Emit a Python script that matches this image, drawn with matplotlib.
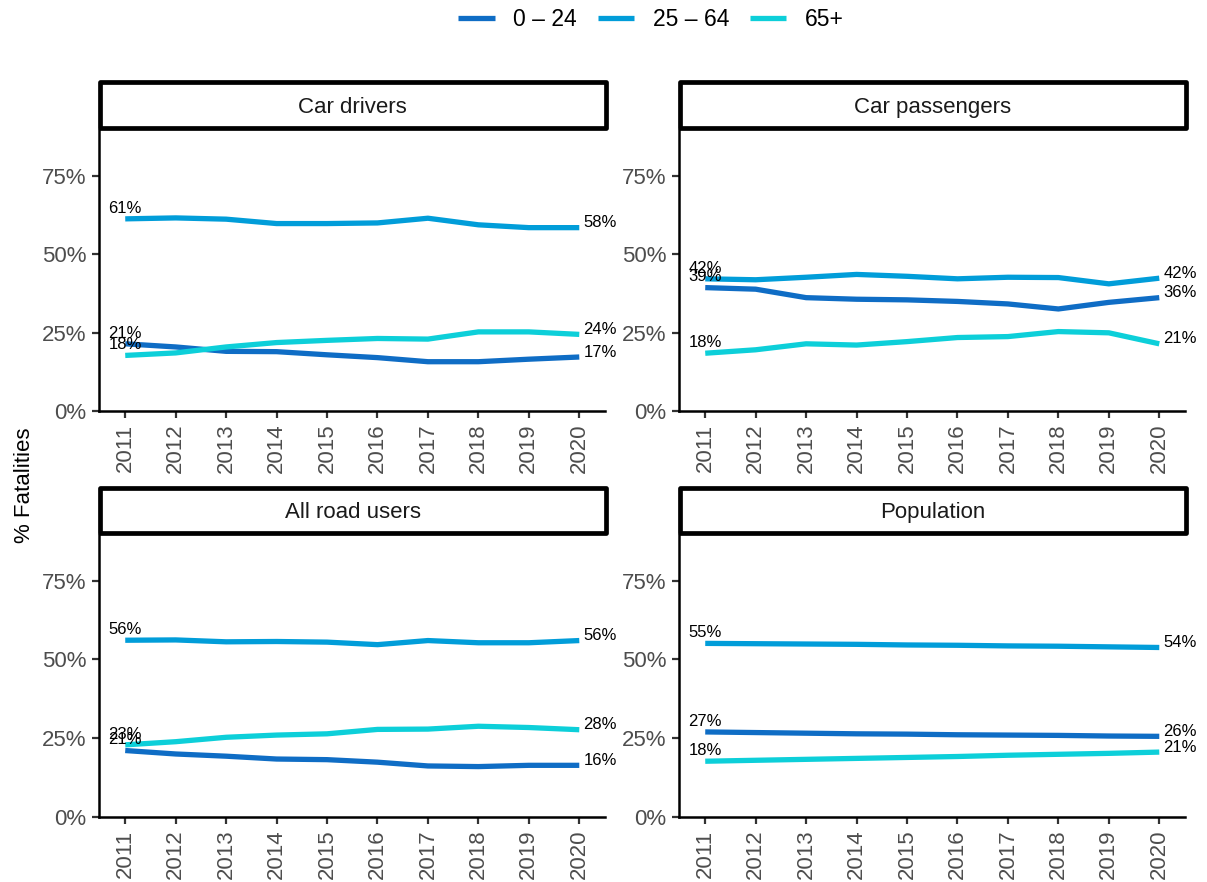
import numpy as np
import matplotlib.pyplot as plt
from matplotlib.patches import Rectangle
from matplotlib.lines import Line2D

plt.rcParams['font.family'] = ['Liberation Sans', 'DejaVu Sans']

years = np.arange(2011, 2021)
groups = ['0 – 24', '25 – 64', '65+']
colors = ['#0F6DC5', '#019DD9', '#0DCFD9']

car_drivers_0_24 = [21.4, 20.4, 19.0, 18.9, 17.9, 17.0, 15.7, 15.7, 16.5, 17.2]
car_drivers_25_64 = [61.2, 61.5, 61.1, 59.7, 59.7, 59.9, 61.4, 59.3, 58.4, 58.4]
car_drivers_65 = [17.7, 18.5, 20.4, 21.8, 22.5, 23.1, 22.9, 25.2, 25.2, 24.4]

car_pass_0_24 = [39.3, 38.8, 36.1, 35.6, 35.4, 34.9, 34.1, 32.5, 34.6, 36.1]
car_pass_25_64 = [42.1, 41.8, 42.6, 43.5, 42.9, 42.1, 42.6, 42.5, 40.5, 42.3]
car_pass_65 = [18.4, 19.5, 21.4, 21.0, 22.1, 23.4, 23.7, 25.3, 24.9, 21.4]

all_users_0_24 = [21.1, 20.0, 19.3, 18.4, 18.2, 17.4, 16.2, 16.0, 16.4, 16.4]
all_users_25_64 = [56.1, 56.2, 55.6, 55.7, 55.5, 54.7, 56.0, 55.3, 55.3, 56.0]
all_users_65 = [22.9, 23.9, 25.3, 26.0, 26.4, 27.8, 27.9, 28.8, 28.4, 27.7]

population_0_24 = [27.0, 26.8, 26.6, 26.4, 26.3, 26.1, 26.0, 25.9, 25.7, 25.6]
population_25_64 = [55.1, 55.0, 54.9, 54.8, 54.6, 54.5, 54.3, 54.2, 54.0, 53.8]
population_65 = [17.7, 18.0, 18.3, 18.6, 18.9, 19.2, 19.6, 19.9, 20.2, 20.6]

panels = ['Car drivers', 'Car passengers', 'All road users', 'Population']
panel_data = {
    'Car drivers': [car_drivers_0_24, car_drivers_25_64, car_drivers_65],
    'Car passengers': [car_pass_0_24, car_pass_25_64, car_pass_65],
    'All road users': [all_users_0_24, all_users_25_64, all_users_65],
    'Population': [population_0_24, population_25_64, population_65],
}

W, H = 1207, 882
fig = plt.figure(figsize=(W / 100, H / 100), dpi=100)

# panel boxes in pixels: (left, top, right, bottom)
boxes = [(99, 130, 605, 411), (679, 130, 1185, 411),
         (99, 535, 605, 817), (679, 535, 1185, 817)]
grey = '#4D4D4D'

for name, (x0, y0, x1, y1) in zip(panels, boxes):
    ax = fig.add_axes([x0 / W, 1 - y1 / H, (x1 - x0) / W, (y1 - y0) / H])
    for vals, col in zip(panel_data[name], colors):
        ax.plot(years, vals, color=col, lw=3.8, solid_capstyle='butt')
        ax.annotate('%d%%' % round(vals[0]), (years[0], vals[0]),
                    xytext=(0, 4.5), textcoords='offset points',
                    ha='center', va='baseline', fontsize=12)
        ax.annotate('%d%%' % round(vals[-1]), (years[-1], vals[-1]),
                    xytext=(3, 3.5), textcoords='offset points',
                    ha='left', va='center', fontsize=12)
    ax.set_xlim(2010.48, 2020.51)
    ax.set_ylim(0, 89.5)
    ax.set_xticks(years)
    ax.set_xticklabels([str(y) for y in years], rotation=90)
    ax.set_yticks([0, 25, 50, 75])
    ax.set_yticklabels(['0%', '25%', '50%', '75%'])
    ax.tick_params(labelsize=16, labelcolor=grey, length=5, width=1.6,
                   color='#333333', pad=4)
    for s in ['top', 'right']:
        ax.spines[s].set_visible(False)
    for s in ['left', 'bottom']:
        ax.spines[s].set_linewidth(1.8)
        ax.spines[s].set_color('black')

    # facet strip
    sx0, sx1 = x0 + 0.5, x1 + 1
    sy0, sy1 = y0 - 47.5, y0 - 2
    fig.patches.append(Rectangle((sx0 / W, 1 - sy1 / H), (sx1 - sx0) / W,
                                 (sy1 - sy0) / H, transform=fig.transFigure,
                                 facecolor='white', edgecolor='black',
                                 lw=3.4, joinstyle='round', figure=fig))
    fig.text((sx0 + sx1) / 2 / W, 1 - ((sy0 + sy1) / 2 + 2) / H, name,
             ha='center', va='center', fontsize=16, color='#1A1A1A')

fig.text(25 / W, 1 - 485 / H, '% Fatalities', rotation=90,
         ha='center', va='center', fontsize=16)

handles = [Line2D([], [], color=c, lw=3.8, solid_capstyle='butt') for c in colors]
fig.legend(handles, groups, loc='center', bbox_to_anchor=(651 / W, 1 - 20 / H),
           ncol=3, frameon=False, fontsize=16.5, handlelength=1.6,
           handletextpad=0.8, columnspacing=0.9)

fig.savefig('out.png', dpi=100)
